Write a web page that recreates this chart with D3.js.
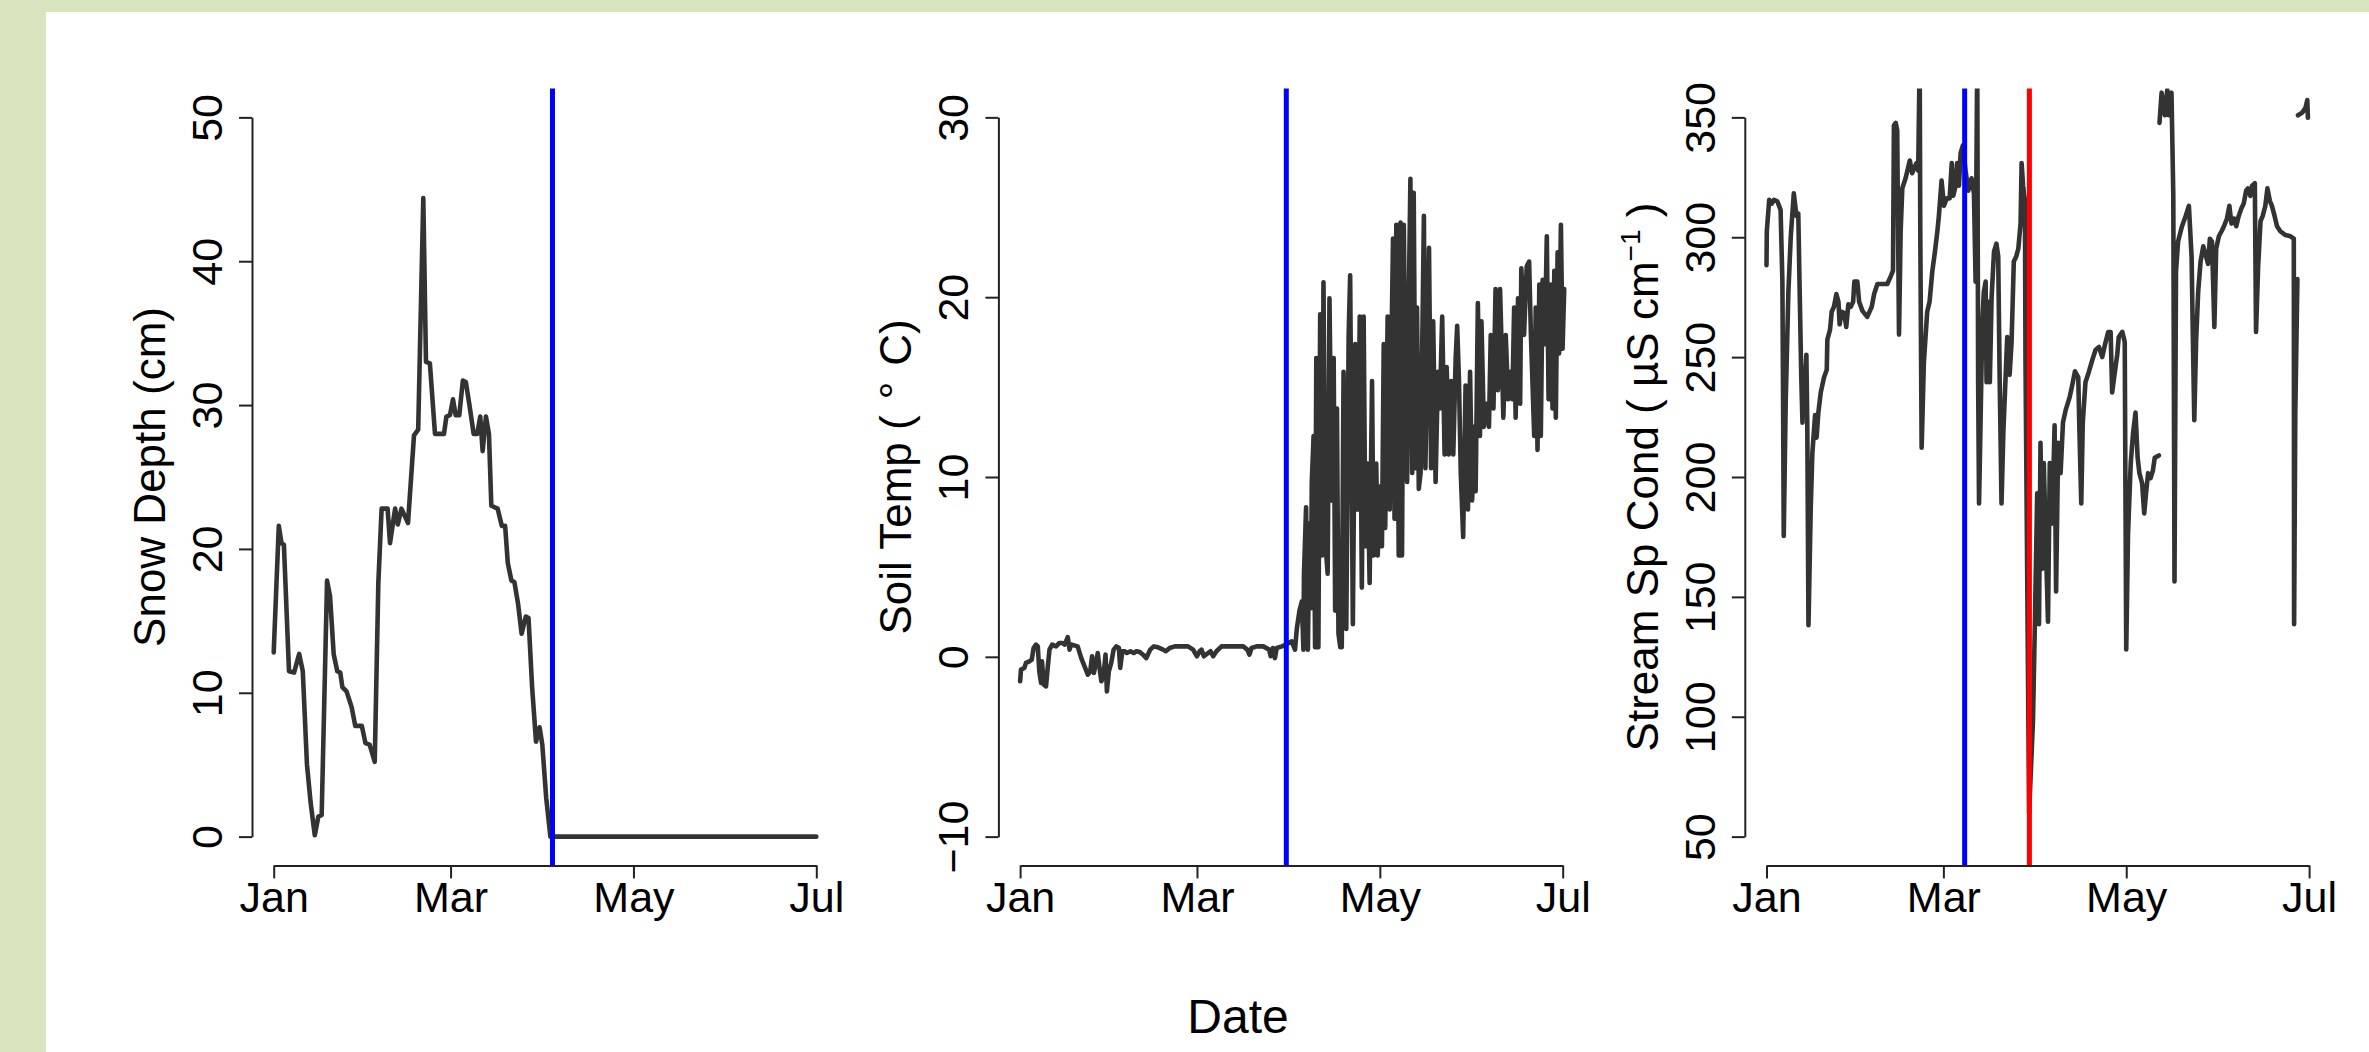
<!DOCTYPE html>
<html lang="en">

<head>
  <meta charset="UTF-8" />
  <script src="https://d3js.org/d3.v7.min.js"></script>
  <style>
    body {
      margin: 0;
      background: #d7e4bd;
    }

    svg text {
      font-family: "Liberation Sans", Arial, sans-serif;
      fill: #000;
    }

    .axis .domain,
    .axis line {
      stroke: #222;
      stroke-width: 2px;
    }
  </style>
</head>

<body>
  <svg id="chart" width="2369" height="1052"></svg>

  <script>
    // day offsets from Jan 1 (non-leap year) and values
    const snowDepth = [
      [0, 12.8], [1.7, 21.6], [2.6, 20.4], [3.4, 20.3], [5.1, 11.5], [6.8, 11.4], [8.5, 12.7], [9.7, 11.5],
      [11.1, 5.0], [12.3, 2.4], [13.7, 0.1], [14.9, 1.4], [16, 1.5], [17.8, 17.8], [18.8, 16.7], [20, 12.7],
      [21.2, 11.5], [22.2, 11.4], [22.9, 10.4], [24.3, 10.1], [26, 9.0], [27.2, 7.7], [29.4, 7.7], [30.6, 6.5],
      [32, 6.4], [33.7, 5.2], [34.9, 17.6], [36, 22.8], [38, 22.8], [38.8, 20.4], [40.5, 22.8], [41.4, 21.7],
      [42.6, 22.8], [44.8, 21.8], [46.8, 27.9], [48.2, 28.3], [49.9, 44.4], [50.8, 33.0], [52.1, 32.9],
      [53.8, 28.0], [56.8, 28.0], [57.6, 29.2], [58.8, 29.3], [59.8, 30.4], [60.7, 29.3], [61.9, 29.3],
      [63.1, 31.7], [64.1, 31.6], [65.3, 30.0], [66.7, 28.0], [67.9, 28.0], [68.9, 29.2], [69.7, 26.8],
      [70.8, 29.2], [71.8, 28.0], [72.6, 23.0], [74.7, 22.8], [76.1, 21.6], [77.2, 21.6], [78.1, 19.0],
      [79.3, 17.8], [80.3, 17.7], [81.5, 16.2], [82.7, 14.1], [84.1, 15.3], [85, 15.2], [86.2, 10.4],
      [87.5, 6.6], [88.7, 7.6], [89.6, 6.4], [90.9, 2.7], [92.3, 0], [181, 0]
    ];

    const soilTemp = [
      [0, -1.36], [0.29, -0.71], [1.4, -0.62], [1.96, -0.34], [3.1, -0.25], [3.9, -0.16], [4.5, 0.49], [5.3, 0.68],
      [5.9, 0.58], [6.4, -0.81], [7, -1.45], [7.3, -0.25], [7.9, -1.55], [8.65, -1.64], [9.2, -0.62], [9.8, 0.4],
      [10.7, 0.68], [12, 0.58], [13.1, 0.77], [14.2, 0.77], [14.8, 0.68], [15.3, 0.86], [15.9, 1.09], [16.5, 0.4],
      [17, 0.68], [19.2, 0.58], [20.4, -0.07], [21.5, -0.53], [22.6, -0.99], [23.4, -0.81], [24, 0.03],
      [24.6, -0.9], [25.4, -0.25], [25.9, 0.21], [26.5, -0.62], [27.1, -1.36], [27.8, -1.08], [28.5, 0.12],
      [28.95, -1.92], [29.6, -0.81], [30.4, -0.34], [31.2, 0.4], [32.1, 0.58], [32.96, 0.49], [33.4, -0.62],
      [34.1, 0.31], [34.9, 0.31], [35.6, 0.21], [36.8, 0.31], [37.9, 0.21], [38.8, 0.31], [39.9, 0.27], [41, 0.12],
      [42.1, -0.07], [43.4, 0.4], [44.6, 0.58], [46, 0.53], [47.7, 0.4], [48.6, 0.31], [49.9, 0.49], [51.6, 0.58],
      [53.8, 0.58], [56, 0.58], [57.7, 0.4], [59, 0.03], [59.9, 0.31], [60.5, 0.4], [61.3, 0.03], [61.96, 0.12],
      [62.7, 0.21], [63.5, 0.31], [64.4, 0.03], [65.5, 0.31], [67.2, 0.58], [69.4, 0.58], [71.7, 0.58],
      [74.4, 0.58], [75.8, 0.4], [76.5, 0.12], [77.2, 0.49], [78.9, 0.58], [81.1, 0.58], [83.1, 0.4],
      [83.6, 0.03], [84.3, 0.49], [85, -0.07], [85.6, 0.49], [87.3, 0.58], [88.7, 0.68], [90.6, 0.86],
      [91.7, 0.4], [92.3, 1.55], [93.2, 2.57], [94, 3.08], [94.5, 0.4], [94.7, 4.62], [95.4, 8.32], [96, 0.4],
      [96.5, 7.43], [97, 2.7], [97.3, 9.72], [97.9, 12.28], [98.4, 0.53], [98.8, 16.62], [99.5, 0.53],
      [100.1, 19.05], [100.7, 5.64], [101.2, 20.83], [101.8, 6.4], [102.6, 4.62], [103.2, 19.94], [104, 8.7],
      [104.6, 16.62], [105.1, 2.57], [105.7, 13.81], [106.2, 1.3], [106.8, 0.53], [107.3, 0.53], [107.9, 15.85],
      [108.8, 1.55], [109.6, 17.9], [110.1, 21.22], [111, 1.81], [111.8, 17.39], [112.6, 8.19], [113.3, 18.92],
      [114, 3.85], [114.6, 18.92], [115.2, 6.15], [115.9, 10.75], [116.6, 4.11], [117.4, 15.34], [117.9, 5.64],
      [118.8, 10.75], [119.3, 5.64], [120, 9.47], [120.7, 6.15], [121.3, 17.39], [121.8, 7.17], [122.6, 18.92],
      [123.3, 8.19], [123.7, 15.34], [124.4, 23.26], [124.9, 7.68], [125.5, 24.03], [126.3, 5.64],
      [126.9, 24.15], [127.4, 5.64], [128, 24.03], [128.5, 15.34], [129.1, 9.72], [129.6, 19.17],
      [130.2, 26.58], [130.8, 10.23], [131.3, 25.81], [131.9, 10.49], [132.4, 19.43], [133, 9.34],
      [133.6, 10.23], [134.7, 24.53], [135.2, 10.49], [136.4, 22.75], [137.1, 10.49], [137.8, 18.66],
      [138.6, 9.72], [139.4, 15.85], [140, 13.81], [140.8, 18.92], [141.6, 11.26], [142.3, 16.11], [143, 11.26],
      [143.8, 15.34], [144.5, 11.26], [145.3, 16.62], [145.8, 18.41], [146.4, 15.34], [147, 10.23],
      [147.8, 6.66], [148.6, 15.09], [149.4, 8.19], [150.1, 15.85], [150.8, 8.7], [151.4, 12.79],
      [151.96, 9.21], [152.7, 19.68], [153.4, 12.28], [153.9, 18.66], [154.7, 12.79], [155.6, 14.07],
      [156.4, 12.79], [157, 17.9], [157.9, 13.81], [158.6, 20.45], [159.4, 14.83], [160.1, 20.45],
      [160.6, 17.39], [161.2, 13.3], [162, 17.9], [162.8, 14.32], [163.5, 15.85], [164.2, 14.32],
      [164.8, 19.43], [165.3, 13.3], [166.1, 19.94], [166.8, 14.07], [167.2, 21.6], [168.1, 17.9], [169, 21.72],
      [169.8, 21.98], [170.4, 17.9], [171.5, 12.28], [172, 19.43], [172.6, 11.51], [173.2, 20.7],
      [173.7, 12.28], [174.3, 20.96], [175, 17.39], [175.7, 23.39], [176.3, 14.32], [177.1, 20.7],
      [177.6, 13.81], [178.2, 21.47], [178.7, 13.3], [179.3, 22.49], [179.8, 16.87], [180.4, 24.03],
      [180.96, 17.13], [181.5, 20.45]
    ];

    // null marks a gap in the record
    const streamCond = [
      [0, 288.3], [0.1, 302.5], [0.9, 315.6], [1.75, 314], [2.5, 315.6], [3.6, 315], [4.7, 311.4], [5.3, 281.5],
      [5.5, 239.5], [5.75, 175.4], [6.4, 231], [7.3, 277.3], [8.1, 300.4], [9.1, 318.3], [10, 308.9],
      [10.6, 309.9], [11.1, 275.2], [11.6, 241.6], [12, 222.7], [12.3, 240.5], [12.8, 239.5], [13.3, 251],
      [13.6, 222.7], [14, 138.2], [14.75, 186.9], [15.3, 210], [16.2, 225.8], [16.7, 216.4], [17.3, 226.9],
      [18.1, 235.3], [19.2, 241.6], [20.1, 244.7], [20.3, 257.3], [21.2, 261.5], [21.75, 268.9], [22.5, 271],
      [23.3, 276.3], [24, 273.1], [24.4, 263.7], [25.1, 268.9], [25.9, 268.5], [26.6, 262.6], [27.3, 272],
      [28.1, 271], [28.9, 273.1], [29.3, 281.5], [30.3, 281.5], [30.9, 273.1], [32, 269.3], [33.6, 266.8],
      [35.1, 271], [35.9, 276.3], [37, 280.5], [39.2, 280.5], [40.3, 280.5], [41.4, 283.6], [42.2, 286.1],
      [42.5, 346.7], [43.1, 347.7], [43.6, 344.6], [44.2, 259.4], [44.75, 302.5], [45.3, 320.4], [46.4, 324.6],
      [47.8, 332], [48.6, 326.7], [50, 330.9], [50.6, 327.8], [51.1, 375], [51.3, 302.5], [51.75, 212.2],
      [52.5, 247.9], [53.6, 268.9], [54.4, 273.1], [55.3, 285.7], [56.2, 294.1], [57, 302.5], [57.5, 308.9],
      [58.4, 323.6], [59.2, 313.1], [60.1, 316.2], [61.1, 316.2], [61.8, 330.9], [62.3, 317.3], [63.1, 321.5],
      [63.6, 330.9], [64.2, 321.5], [64.75, 335.1], [65.5, 338.3], [66.4, 327.8], [67.3, 319.4], [68.4, 324.6],
      [69.2, 318.3], [69.75, 281.5], [70.3, 375], [70.6, 239.5], [70.9, 189], [71.4, 222.7], [72, 264.7],
      [72.5, 277.3], [73.1, 281.5], [73.4, 239.5], [74, 273.1], [74.5, 239.5], [75.1, 275.2], [75.9, 294.1],
      [76.7, 297.3], [77.3, 292], [77.75, 243.7], [78.4, 189], [79, 218.5], [79.75, 241.6], [80.3, 258.4],
      [81.1, 242.6], [81.75, 256.3], [82.5, 289.9], [83.3, 292], [84, 295.2], [84.75, 305.7], [85.1, 330.9],
      [85.6, 321.5], [86.2, 315.2], [86.4, 247.9], [87.6, 60], [88.9, 98.6], [89.5, 137.5], [90.3, 193.2],
      [90.9, 138.6], [91.4, 214.3], [92, 161.7], [92.5, 205.8], [93.1, 176.4], [93.9, 139.6], [94.5, 205.8],
      [95.3, 180.6], [96.1, 221.6], [96.6, 152.3], [97.3, 214.3], [98.1, 201.6], [98.9, 222.7], [99.8, 227.9],
      [101.1, 233.2], [102, 238.4], [102.9, 244.1], [104, 241.6], [104.4, 218.5], [105, 189], [105.5, 222.7],
      [106.4, 239.5], [107.5, 243.7], [108.7, 248.9], [109.8, 253.1], [110.9, 254.2], [112, 250],
      [112.9, 255.2], [114, 260.5], [114.8, 260.5], [115.3, 235.3], [116.2, 243.7], [117, 251], [117.5, 258.4],
      [118.7, 260.5], [119.5, 256.3], [120, 128.1], [120.6, 176.4], [121.5, 205.8], [122.3, 218.5],
      [123.1, 226.9], [123.8, 208], [124.4, 201.6], [125.3, 197.4], [126, 184.8], [126.6, 193.2],
      [127.3, 201.6], [128.1, 199.5], [128.9, 202.7], [129.5, 208], [130.9, 209], [131, null],
      [131.1, 347.7], [131.8, 360.3], [132.9, 350.9], [133.7, 361.4], [134.2, 350.9], [135.1, 360.3],
      [135.7, 317.3], [136.1, 156.4], [136.6, 285.7], [137.3, 298.3], [138.6, 304.6], [139.8, 308.8],
      [140.9, 313.1], [141.8, 292], [142.2, 260.5], [142.7, 223.7], [143.3, 256.3], [144, 277.3],
      [144.8, 289.9], [145.7, 296.2], [146.4, 293.1], [147.3, 288.9], [147.9, 299.4], [148.6, 298.3],
      [149.4, 262.6], [150, 295.2], [150.9, 300.4], [151.8, 302.5], [152.6, 304.6], [153.6, 307.8],
      [154.4, 313.1], [155.1, 305.7], [156, 307.8], [156.7, 304.6], [157.5, 308.8], [158.4, 312],
      [159.2, 314.1], [160, 319.4], [160.6, 320.4], [161.4, 317.3], [162, 321.5], [162.9, 322.5],
      [163.3, 260.5], [164, 287.8], [164.8, 306.7], [165.5, 308.8], [166.4, 313.1], [167.1, 320.4],
      [167.9, 315.2], [168.6, 313.1], [169.5, 308.8], [170.3, 304.6], [171.4, 302.5], [173.1, 300.9],
      [174.8, 300.4], [175.9, 299.4], [176, 138.6], [176.4, 226.9], [177.1, 282.6], [177.2, null],
      [177.3, 350.9], [178.7, 352], [179.8, 354], [180.4, 357.2], [180.6, 349.9]
    ];

    const monthTickDays = [0, 59, 120, 181];
    const monthTickLabels = ["Jan", "Mar", "May", "Jul"];
    const snowTicks = [0, 10, 20, 30, 40, 50];
    const soilTicks = [-10, 0, 10, 20, 30];
    const condTicks = [50, 100, 150, 200, 250, 300, 350];

    // vertical event lines (day offsets)
    const snowEvents = [{ day: 93.0, color: "#0000ff" }];
    const soilEvents = [{ day: 88.8, color: "#0000ff" }];
    const condEvents = [{ day: 66.1, color: "#0000ff" }, { day: 87.7, color: "#ff0000" }];

    const svg = d3.select("#chart");
    svg.append("rect")
      .attr("x", 46).attr("y", 12)
      .attr("width", 2369 - 46).attr("height", 1052 - 12)
      .attr("fill", "white");

    const yearStart = Date.UTC(2015, 0, 1);
    const toDate = d => new Date(yearStart + d * 864e5);

    const plotTop = 88.6, plotBottom = 865.4, plotW = 586;
    const panelStep = 746.4, firstLeft = 252;
    const padX = plotW * 0.04 / 1.08;
    const padY = (plotBottom - plotTop) * 0.04 / 1.08;

    const panels = [
      { data: snowDepth, ticks: snowTicks, events: snowEvents, label: "snow" },
      { data: soilTemp, ticks: soilTicks, events: soilEvents, label: "soil" },
      { data: streamCond, ticks: condTicks, events: condEvents, label: "cond" }
    ];

    panels.forEach((p, i) => {
      const left = firstLeft + i * panelStep;
      const x = d3.scaleUtc()
        .domain([toDate(0), toDate(181)])
        .range([left + padX, left + plotW - padX]);
      const y = d3.scaleLinear()
        .domain(d3.extent(p.ticks))
        .range([plotBottom - padY, plotTop + padY]);

      const clipId = "clip" + i;
      svg.append("clipPath").attr("id", clipId)
        .append("rect")
        .attr("x", left).attr("y", plotTop)
        .attr("width", plotW).attr("height", plotBottom - plotTop);

      const line = d3.line()
        .defined(d => d[1] !== null)
        .x(d => x(toDate(d[0])))
        .y(d => y(d[1]));

      svg.append("path")
        .datum(p.data)
        .attr("clip-path", `url(#${clipId})`)
        .attr("fill", "none")
        .attr("stroke", "#333333")
        .attr("stroke-width", 4.6)
        .attr("stroke-linejoin", "round")
        .attr("stroke-linecap", "round")
        .attr("d", line);

      svg.append("g").selectAll("line").data(p.events)
        .join("line")
        .attr("x1", d => x(toDate(d.day)))
        .attr("x2", d => x(toDate(d.day)))
        .attr("y1", plotTop)
        .attr("y2", plotBottom)
        .attr("stroke", d => d.color)
        .attr("stroke-width", 5);

      // bottom axis
      const xAxis = d3.axisBottom(x)
        .tickValues(monthTickDays.map(toDate))
        .tickFormat((d, k) => monthTickLabels[k])
        .tickSize(13)
        .tickSizeOuter(0);
      const gx = svg.append("g")
        .attr("class", "axis")
        .attr("transform", `translate(0,${plotBottom})`)
        .call(xAxis);
      gx.selectAll("text")
        .attr("y", 47).attr("dy", null)
        .attr("font-size", 43);

      // left axis
      const yAxis = d3.axisLeft(y)
        .tickValues(p.ticks)
        .tickFormat(d3.format("d"))
        .tickSize(13)
        .tickSizeOuter(0);
      const gy = svg.append("g")
        .attr("class", "axis")
        .attr("transform", `translate(${left},0)`)
        .call(yAxis);
      gy.selectAll("text")
        .attr("x", null).attr("dy", null)
        .attr("text-anchor", "middle")
        .attr("transform", "translate(-30,0) rotate(-90)")
        .attr("font-size", 43);
      gy.selectAll(".domain, line").attr("stroke", "#222");
      gx.selectAll(".domain, line").attr("stroke", "#222");

      // y label
      const lab = svg.append("text")
        .attr("transform", `translate(${left - 87},477) rotate(-90)`)
        .attr("text-anchor", "middle")
        .attr("font-size", 44);
      if (p.label === "snow") {
        lab.text("Snow Depth (cm)");
      } else if (p.label === "soil") {
        lab.append("tspan").text("Soil Temp ( ");
        lab.append("tspan").attr("dy", -12).attr("font-size", 40).text("\u2218");
        lab.append("tspan").attr("dy", 12).text(" C)");
      } else {
        lab.append("tspan").text("Stream Sp Cond ( \u00b5S cm");
        lab.append("tspan").attr("dy", -18).attr("font-size", 28).text("\u22121");
        lab.append("tspan").attr("dy", 18).text(" )");
      }
    });

    svg.append("text")
      .attr("x", 1238).attr("y", 1033)
      .attr("text-anchor", "middle")
      .attr("font-size", 48)
      .text("Date");
  </script>
</body>

</html>
